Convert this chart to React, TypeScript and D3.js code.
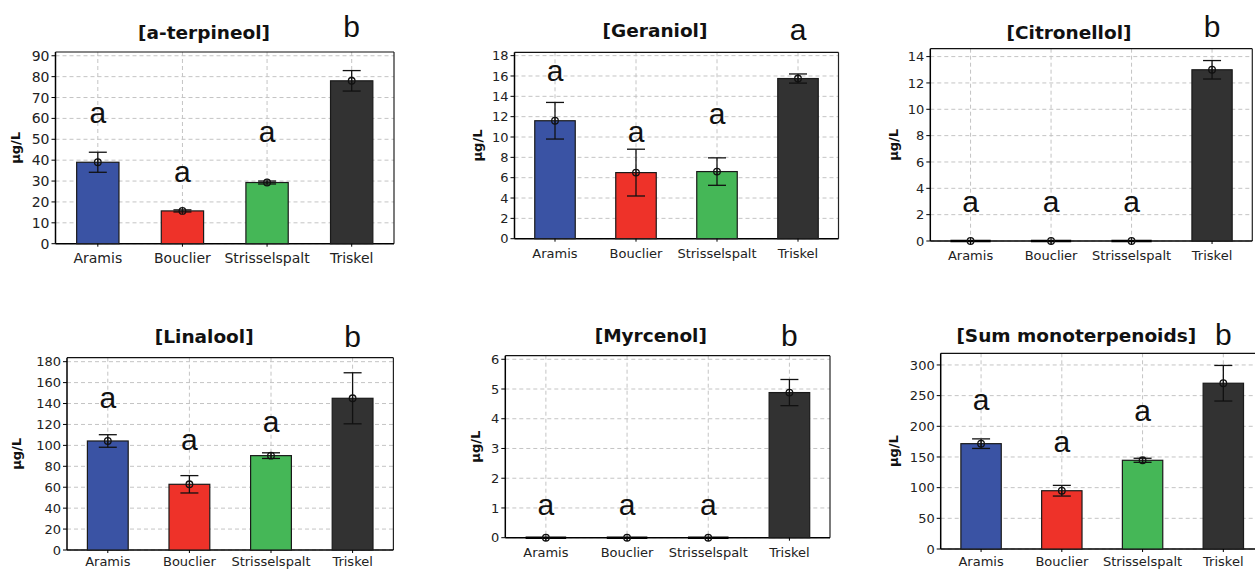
import React from "react";
import * as d3 from "d3";

const categories = ["Aramis", "Bouclier", "Strisselspalt", "Triskel"];
const barColors = ["#3a53a4", "#ee3229", "#45b757", "#323232"];

const aTerpineolMean = [39, 15.7, 29.3, 78];
const aTerpineolErr = [4.8, 0.5, 0.7, 4.9];
const aTerpineolLetters = ["a", "a", "a", "b"];
const aTerpineolLetterY = [57.8, 29.5, 48.7, 99];
const aTerpineolTicks = [0, 10, 20, 30, 40, 50, 60, 70, 80, 90];

const geraniolMean = [11.6, 6.5, 6.6, 15.75];
const geraniolErr = [1.8, 2.3, 1.35, 0.45];
const geraniolLetters = ["a", "a", "a", "a"];
const geraniolLetterY = [15.5, 9.5, 11.3, 19.5];
const geraniolTicks = [0, 2, 4, 6, 8, 10, 12, 14, 16, 18];

const citronellolMean = [0, 0, 0, 13.0];
const citronellolErr = [0, 0, 0, 0.7];
const citronellolLetters = ["a", "a", "a", "b"];
const citronellolLetterY = [2.2, 2.2, 2.2, 15.5];
const citronellolTicks = [0, 2, 4, 6, 8, 10, 12, 14];

const linaloolMean = [104.2, 62.8, 90.2, 145];
const linaloolErr = [6, 8.3, 2.7, 24.4];
const linaloolLetters = ["a", "a", "a", "b"];
const linaloolLetterY = [135.5, 95.6, 113, 193.8];
const linaloolTicks = [0, 20, 40, 60, 80, 100, 120, 140, 160, 180];

const myrcenolMean = [0, 0, 0, 4.88];
const myrcenolErr = [0, 0, 0, 0.44];
const myrcenolLetters = ["a", "a", "a", "b"];
const myrcenolLetterY = [0.76, 0.76, 0.76, 6.45];
const myrcenolTicks = [0, 1, 2, 3, 4, 5, 6];

const sumMean = [171.7, 95, 144.6, 270.2];
const sumErr = [7.8, 8.7, 3.3, 29];
const sumLetters = ["a", "a", "a", "b"];
const sumLetterY = [226.6, 158.7, 209.2, 332.6];
const sumTicks = [0, 50, 100, 150, 200, 250, 300];

const panels = [
  { title: "[a-terpineol]", mean: aTerpineolMean, err: aTerpineolErr, letters: aTerpineolLetters, letterY: aTerpineolLetterY, ticks: aTerpineolTicks, yMax: 91.8,
    box: { l: 55.5, t: 52, r: 394, b: 243.7 }, titleX: 204, titleY: 39, yLabelX: 15, fs: 14 },
  { title: "[Geraniol]", mean: geraniolMean, err: geraniolErr, letters: geraniolLetters, letterY: geraniolLetterY, ticks: geraniolTicks, yMax: 18.33,
    box: { l: 514.5, t: 52.3, r: 838.5, b: 238.7 }, titleX: 655, titleY: 37.3, yLabelX: 477, fs: 13 },
  { title: "[Citronellol]", mean: citronellolMean, err: citronellolErr, letters: citronellolLetters, letterY: citronellolLetterY, ticks: citronellolTicks, yMax: 14.6,
    box: { l: 930.3, t: 48.7, r: 1252.3, b: 241 }, titleX: 1069, titleY: 39, yLabelX: 893, fs: 13 },
  { title: "[Linalool]", mean: linaloolMean, err: linaloolErr, letters: linaloolLetters, letterY: linaloolLetterY, ticks: linaloolTicks, yMax: 183.8,
    box: { l: 67, t: 357.7, r: 393.4, b: 550 }, titleX: 204.2, titleY: 343.3, yLabelX: 16.7, fs: 13 },
  { title: "[Myrcenol]", mean: myrcenolMean, err: myrcenolErr, letters: myrcenolLetters, letterY: myrcenolLetterY, ticks: myrcenolTicks, yMax: 6.12,
    box: { l: 505.3, t: 355.7, r: 830, b: 537.7 }, titleX: 650.8, titleY: 341.7, yLabelX: 475, fs: 13 },
  { title: "[Sum monoterpenoids]", mean: sumMean, err: sumErr, letters: sumLetters, letterY: sumLetterY, ticks: sumTicks, yMax: 319,
    box: { l: 940.7, t: 353.3, r: 1263.7, b: 549 }, titleX: 1076.3, titleY: 342.3, yLabelX: 893, fs: 13 },
];

const sansFont = "'DejaVu Sans', Verdana, sans-serif";
const letterFont = "'Liberation Sans', Arial, sans-serif";

function Panel({ p }: { p: any }) {
  const { l, t, r, b } = p.box;
  const x = d3.scaleBand<string>().domain(categories).range([l, r]).paddingInner(0.5).paddingOuter(0.25);
  const y = d3.scaleLinear().domain([0, p.yMax]).range([b, t]);
  const cx = (c: string) => (x(c) as number) + x.bandwidth() / 2;
  const capW = 18;
  const catY = Math.min(b + 19, 565.5);
  return (
    <g>
      {p.ticks.map((v: number) => (
        <line key={"gy" + v} x1={l} x2={r} y1={y(v)} y2={y(v)} stroke="#c4c4c4" strokeDasharray="4,3" />
      ))}
      {categories.map((c) => (
        <line key={"gx" + c} x1={cx(c)} x2={cx(c)} y1={t} y2={b} stroke="#c4c4c4" strokeDasharray="4,3" />
      ))}
      <line x1={l} x2={r} y1={t} y2={t} stroke="#111" strokeWidth={1.2} />
      <line x1={r} x2={r} y1={t} y2={b} stroke="#222" strokeWidth={1.2} />
      <line x1={l} x2={l} y1={t} y2={b} stroke="#000" strokeWidth={1.5} />
      <line x1={l} x2={r} y1={b} y2={b} stroke="#000" strokeWidth={1.5} />
      {categories.map((c, i) =>
        p.mean[i] > 0 ? (
          <rect key={"bar" + c} x={x(c)} width={x.bandwidth()} y={y(p.mean[i])} height={b - y(p.mean[i])}
            fill={barColors[i]} stroke="#1a1a1a" strokeWidth={1.2} />
        ) : (
          <line key={"bar" + c} x1={x(c)} x2={(x(c) as number) + x.bandwidth()} y1={y(p.mean[i])} y2={y(p.mean[i])}
            stroke="#000" strokeWidth={2.5} />
        )
      )}
      {categories.map((c, i) => {
        const xc = cx(c);
        const y1 = y(p.mean[i] + p.err[i]);
        const y0 = y(p.mean[i] - p.err[i]);
        return (
          <g key={"err" + c} stroke="#111" strokeWidth={1.3} fill="none">
            {p.err[i] > 0 && (
              <>
                <line x1={xc} x2={xc} y1={y1} y2={y0} />
                <line x1={xc - capW / 2} x2={xc + capW / 2} y1={y1} y2={y1} />
                <line x1={xc - capW / 2} x2={xc + capW / 2} y1={y0} y2={y0} />
              </>
            )}
            <circle cx={xc} cy={y(p.mean[i])} r={3.3} />
            <line x1={xc} x2={xc} y1={y(p.mean[i]) - 3.3} y2={y(p.mean[i]) + 3.3} strokeWidth={1} />
          </g>
        );
      })}
      {p.ticks.map((v: number) => (
        <g key={"yt" + v}>
          <line x1={l - 4} x2={l} y1={y(v)} y2={y(v)} stroke="#000" />
          <text x={l - 6} y={y(v)} dy="0.36em" textAnchor="end" fontFamily={sansFont} fontSize={p.fs} fill="#222">{v}</text>
        </g>
      ))}
      {categories.map((c) => (
        <g key={"xt" + c}>
          <line x1={cx(c)} x2={cx(c)} y1={b} y2={b + 3} stroke="#000" />
          <text x={cx(c)} y={catY} textAnchor="middle" fontFamily={sansFont} fontSize={p.fs} fill="#222">{c}</text>
        </g>
      ))}
      {categories.map((c, i) => (
        <text key={"lt" + c} x={cx(c)} y={y(p.letterY[i])} textAnchor="middle" fontFamily={letterFont} fontSize={30} fill="#111">{p.letters[i]}</text>
      ))}
      <text x={p.titleX} y={p.titleY} textAnchor="middle" fontFamily={sansFont} fontWeight="bold" fontSize={18.5} fill="#111">{p.title}</text>
      <text transform={`translate(${p.yLabelX},${(t + b) / 2}) rotate(-90)`} textAnchor="middle" dy="0.36em"
        fontFamily={sansFont} fontWeight="bold" fontSize={13} fill="#111">µg/L</text>
    </g>
  );
}

export default function App() {
  return (
    <svg width={1255} height={570} style={{ position: "absolute", left: 0, top: 0, background: "#fff" }}>
      <rect width={1255} height={570} fill="#fff" />
      {panels.map((p) => (
        <Panel key={p.title} p={p} />
      ))}
    </svg>
  );
}
